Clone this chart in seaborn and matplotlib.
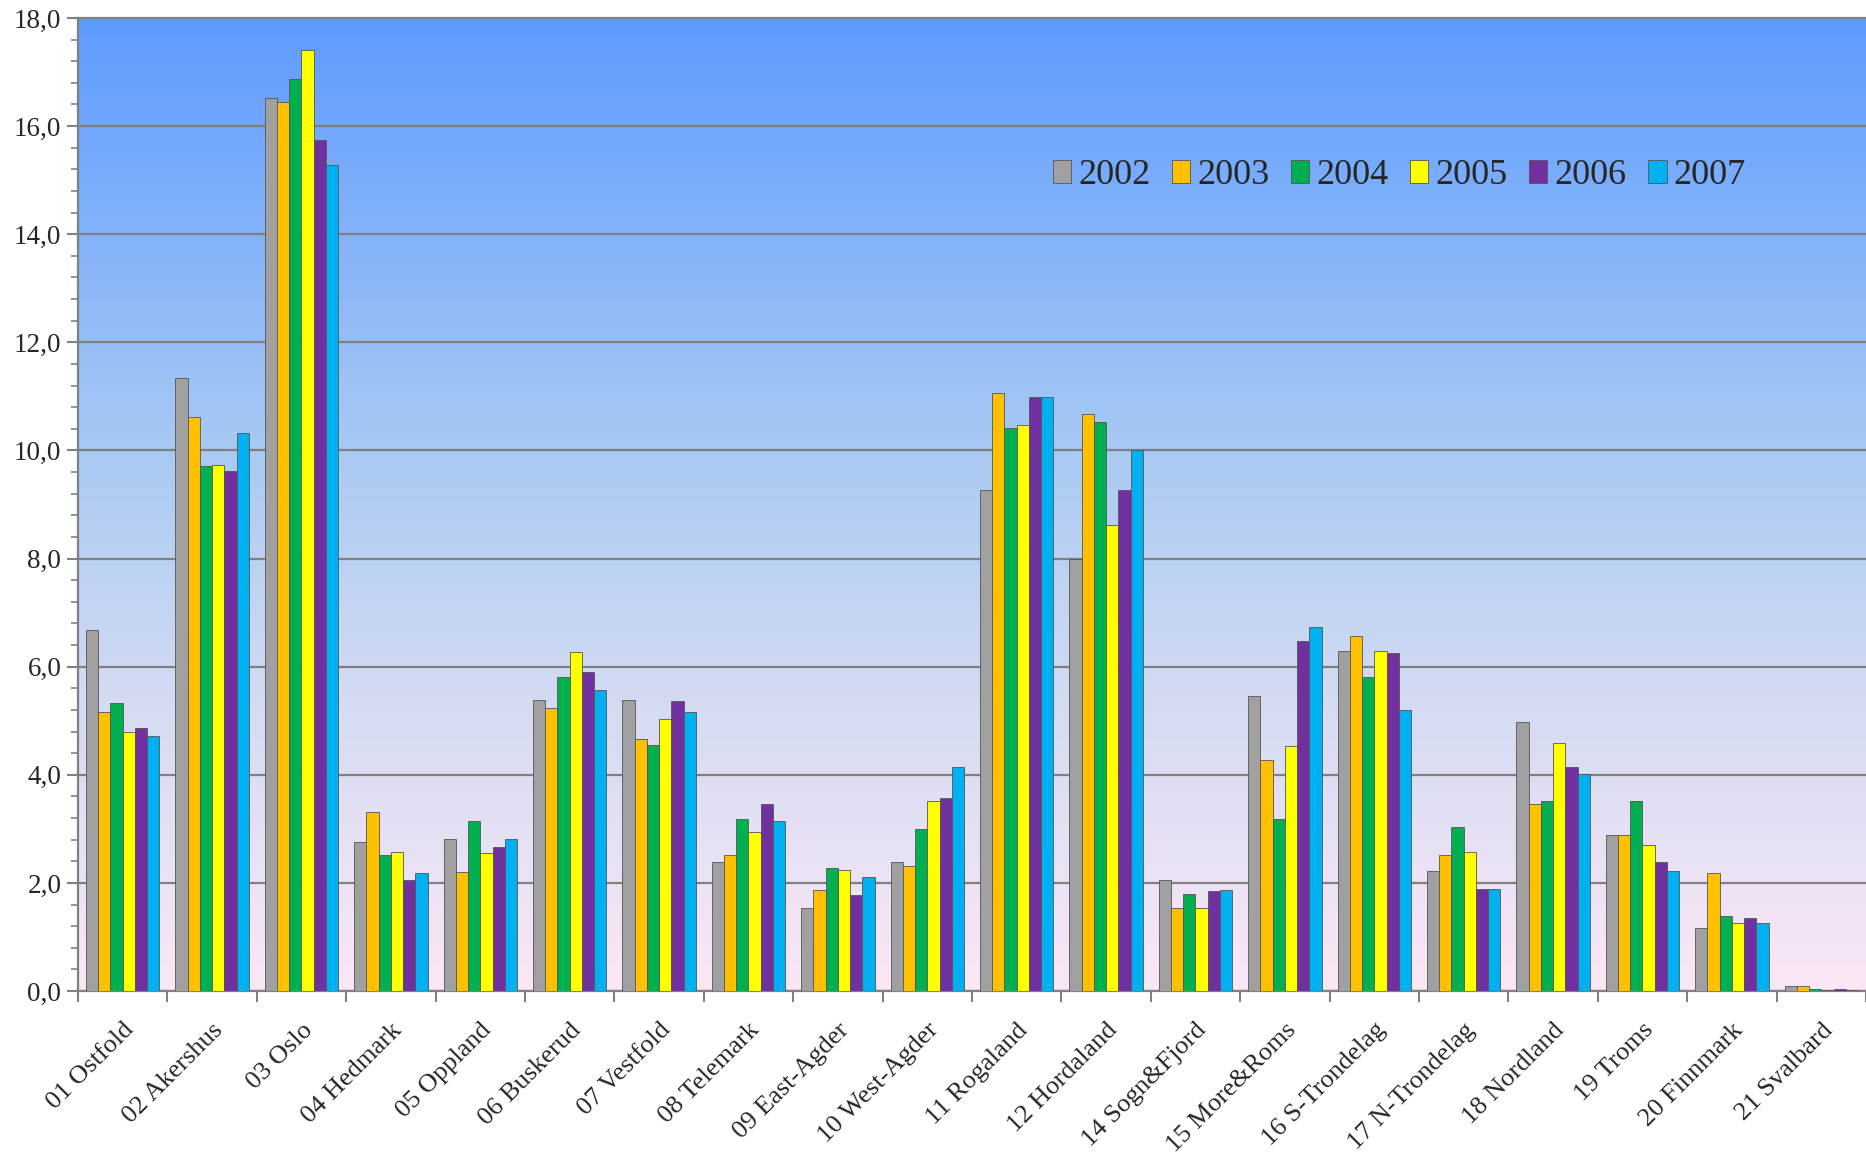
import numpy as np
import pandas as pd
import matplotlib
matplotlib.use("Agg")
import matplotlib.pyplot as plt
from matplotlib.colors import LinearSegmentedColormap
from matplotlib.ticker import MultipleLocator, FuncFormatter, FixedLocator
import seaborn as sns

regions = ["01 Ostfold", "02 Akershus", "03 Oslo", "04 Hedmark", "05 Oppland",
           "06 Buskerud", "07 Vestfold", "08 Telemark", "09 East-Agder",
           "10 West-Agder", "11 Rogaland", "12 Hordaland", "14 Sogn&Fjord",
           "15 More&Roms", "16 S-Trondelag", "17 N-Trondelag", "18 Nordland",
           "19 Troms", "20 Finnmark", "21 Svalbard"]
years = ["2002", "2003", "2004", "2005", "2006", "2007"]

v2002 = [6.67, 11.34, 16.52, 2.75, 2.82, 5.39, 5.39, 2.38, 1.54, 2.38,
         9.26, 7.99, 2.05, 5.46, 6.29, 2.22, 4.97, 2.88, 1.17, 0.10]
v2003 = [5.16, 10.62, 16.44, 3.32, 2.20, 5.24, 4.67, 2.51, 1.87, 2.31,
         11.07, 10.67, 1.54, 4.27, 6.56, 2.51, 3.46, 2.88, 2.18, 0.10]
v2004 = [5.33, 9.72, 16.88, 2.51, 3.15, 5.81, 4.56, 3.19, 2.27, 2.99,
         10.41, 10.52, 1.80, 3.19, 5.81, 3.04, 3.52, 3.52, 1.39, 0.03]
v2005 = [4.80, 9.73, 17.40, 2.57, 2.55, 6.27, 5.04, 2.95, 2.24, 3.52,
         10.48, 8.63, 1.54, 4.53, 6.29, 2.57, 4.58, 2.71, 1.25, 0.02]
v2006 = [4.87, 9.62, 15.75, 2.05, 2.66, 5.90, 5.37, 3.46, 1.78, 3.57,
         10.98, 9.26, 1.85, 6.47, 6.25, 1.89, 4.14, 2.38, 1.36, 0.04]
v2007 = [4.72, 10.33, 15.29, 2.18, 2.82, 5.57, 5.17, 3.15, 2.11, 4.14,
         10.98, 10.01, 1.87, 6.73, 5.19, 1.89, 4.01, 2.22, 1.25, 0.02]

colors = ["#A0A0A0", "#FFC000", "#00B050", "#FFFF00", "#7030A0", "#00B0F0"]

df = pd.DataFrame({"region": regions * 6,
                   "year": np.repeat(years, len(regions)),
                   "value": v2002 + v2003 + v2004 + v2005 + v2006 + v2007})

sns.set_style("white")
plt.rcParams["font.family"] = ["Liberation Serif", "DejaVu Serif"]

fig = plt.figure(figsize=(18.66, 11.54), dpi=100)
ax = fig.add_axes([0.0418, 0.1412, 0.9582, 0.8432])

# background gradient
bg = LinearSegmentedColormap.from_list(
    "bg", [(0.0, "#FBE7F6"), (0.3, "#D3DBF2"), (0.55, "#A9CAF3"), (1.0, "#5E9BFF")])
grad = np.linspace(0, 1, 256).reshape(-1, 1)
ax.imshow(grad, cmap=bg, aspect="auto", origin="lower",
          extent=(-0.5, len(regions) - 0.5, 0, 18), zorder=0)

sns.barplot(data=df, x="region", y="value", hue="year", palette=colors,
            saturation=1, width=0.82, edgecolor="#555555", linewidth=0.6,
            ax=ax, zorder=3)

ax.set_xlim(-0.5, len(regions) - 0.5)
ax.set_ylim(0, 18)
ax.set_xlabel("")
ax.set_ylabel("")

ax.yaxis.set_major_locator(MultipleLocator(2))
ax.yaxis.set_minor_locator(MultipleLocator(0.4))
ax.yaxis.set_major_formatter(FuncFormatter(lambda v, p: f"{v:.1f}".replace(".", ",")))
ax.grid(axis="y", which="major", color="#808080", linewidth=1.6, zorder=1)
ax.set_axisbelow(True)

ax.tick_params(axis="y", which="major", length=8, width=1.5, color="#808080",
               labelsize=19.5, pad=4, left=True)
ax.tick_params(axis="y", which="minor", length=5, width=1.2, color="#808080", left=True)

ax.xaxis.set_minor_locator(FixedLocator(np.arange(-0.5, len(regions), 1.0)))
ax.tick_params(axis="x", which="major", length=0, labelsize=19, pad=20)
ax.tick_params(axis="x", which="minor", length=8, width=1.5, color="#808080", bottom=True)
plt.setp(ax.get_xticklabels(), rotation=45, ha="right", rotation_mode="anchor")

for side in ["left", "bottom", "top"]:
    ax.spines[side].set_color("#808080")
    ax.spines[side].set_linewidth(1.6)
ax.spines["right"].set_visible(False)

handles, labels = ax.get_legend_handles_labels()
ax.legend(handles, labels, ncol=6, frameon=False, fontsize=26,
          loc="center", bbox_to_anchor=(0.739, 0.838),
          handlelength=0.5, handleheight=0.6, handletextpad=0.2,
          columnspacing=0.6)

fig.savefig("out.png", dpi=100)
